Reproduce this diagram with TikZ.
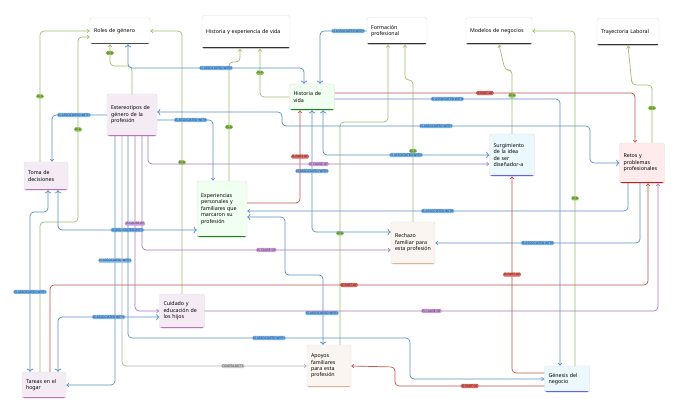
\documentclass[tikz,border=0pt]{standalone}
\usepackage{fontspec}
\setmainfont{Noto Sans}
\usetikzlibrary{arrows.meta}
\definecolor{isaC}{HTML}{9DBE6E}
\definecolor{isaF}{HTML}{8BC34A}
\definecolor{asC}{HTML}{5B8FC9}
\definecolor{asF}{HTML}{6FB3F2}
\definecolor{poC}{HTML}{C2544A}
\definecolor{poF}{HTML}{E0625A}
\definecolor{caC}{HTML}{A77BBE}
\definecolor{caF}{HTML}{CC99DD}
\newcommand\boxfont{\fontsize{5.3}{6.4}\selectfont\hyphenpenalty=10000\relax\exhyphenpenalty=10000\relax}
\tikzset{
  box/.style n args={4}{draw=black!12, fill=#1, rounded corners=2pt,
    minimum width=#3, minimum height=#4, text width=#3-8pt, align=left,
    inner sep=2pt, font=\boxfont,
    path picture={\draw[line width=2.2pt,#2]
      (path picture bounding box.south west) -- (path picture bounding box.south east);}},
  conn/.style={line width=0.7pt, rounded corners=4pt, -{Straight Barb[length=2.2pt,width=3.5pt]}},
  isa/.style={conn, isaC},
  assoc/.style={conn, asC},
  part/.style={conn, poC},
  cause/.style={conn, caC},
  contra/.style={conn, black!30},
  lbl/.style={fill=#1, text=black!80, rounded corners=1.5pt, inner sep=0.9pt,
    font=\fontsize{3.2}{3.6}\selectfont},
}
\begin{document}
\begin{tikzpicture}[x=1pt,y=-1pt]
\useasboundingbox[fill=white] (0,0) rectangle (700,417);
% nodes
\node[box={white}{black!80}{60pt}{26pt}] (roles) at (120,31) {Roles de género};
\node[box={white}{black!80}{88pt}{33pt}] (histexp) at (246,32) {Historia y experiencia de vida};
\node[box={white}{black!80}{60pt}{27pt}] (formacion) at (397,31) {Formación profesional};
\node[box={white}{black!80}{66pt}{27pt}] (modelos) at (499,31) {Modelos de negocios};
\node[box={white}{black!80}{62pt}{27pt}] (trayect) at (628,32) {Trayectoria Laboral};
\node[box={green!6}{green!45!black}{45pt}{26pt}] (histvida) at (312,97) {Historia de vida};
\node[box={violet!8}{violet!60}{50pt}{42pt}] (estereo) at (132,115) {Estereotipos de género de la profesión};
\node[box={violet!8}{violet!60}{44pt}{28pt}] (toma) at (46,176) {Toma de decisiones};
\node[box={green!6}{green!45!black}{50pt}{56pt}] (experien) at (222,209) {Experiencias personales y familiares que marcaron su profesión};
\node[box={cyan!8}{blue!70}{45pt}{42pt}] (surg) at (512,155) {Surgimiento de la idea de ser diseñador-a};
\node[box={red!8}{red!75!black}{45pt}{40pt}] (retos) at (642,163) {Retos y problemas profesionales};
\node[box={brown!8}{brown!60}{44pt}{42pt}] (rechazo) at (413,243) {Rechazo familiar para esta profesión};
\node[box={violet!8}{violet!60}{45pt}{34pt}] (cuidado) at (182,311) {Cuidado y educación de los hijos};
\node[box={brown!8}{brown!60}{44pt}{42pt}] (apoyos) at (329,366) {Apoyos familiares para esta profesión};
\node[box={violet!8}{violet!60}{44pt}{26pt}] (tareas) at (44,385) {Tareas en el hogar};
\node[box={cyan!8}{blue!70}{45pt}{26pt}] (genesis) at (567,379) {Génesis del negocio};
% is a
\draw[isa] ([xshift=-6pt]toma.north) |- node[lbl=isaF,pos=.25]{IS A} (roles.west);
\draw[isa] ([xshift=-4pt]tareas.north) |- (78,222) |- node[lbl=isaF,pos=.25]{IS A} ([yshift=-6pt]roles.west);
\draw[isa] (estereo.north) |- (110,66) -- node[lbl=isaF,pos=.6]{IS A} ([xshift=-10pt]roles.south);
\draw[isa] (cuidado.north) |- node[lbl=isaF,pos=.25]{IS A} (roles.east);
\draw[isa] ([xshift=7pt]experien.north) |- (240,62) -- ([xshift=-6pt]histexp.south);
\node[lbl=isaF] (lisa) at (229,127) {IS A};
\draw[isa] (histvida.west) -| node[lbl=isaF,pos=.75]{IS A} ([xshift=14pt]histexp.south);
\draw[isa] ([xshift=11pt]apoyos.north) |- node[lbl=isaF,pos=.25]{IS A} (388,122) -- ([xshift=-9pt]formacion.south);
\draw[isa] (rechazo.north) |- node[lbl=isaF,pos=.25]{IS A} (405,80) -- ([xshift=8pt]formacion.south);
\draw[isa] (surg.north) |- node[lbl=isaF,pos=.3]{IS A} (505,70) -- (modelos.south);
\draw[isa] ([xshift=8pt]genesis.north) |- node[lbl=isaF,pos=.25]{IS A} (modelos.east);
\draw[isa] ([xshift=10pt]retos.north) |- node[lbl=isaF,pos=.3]{IS A} (632,85) -- (trayect.south);
% associated with
\draw[assoc,<->] ([xshift=8pt]roles.south) |- node[lbl=asF,pos=.75]{IS ASSOCIATED WITH} (304,68) -- ([xshift=-8pt]histvida.north);
\draw[assoc,<-] ([xshift=8pt]histvida.north) |- node[lbl=asF,pos=.8]{IS ASSOCIATED WITH} (formacion.west);
\draw[assoc] (estereo.west) -| node[lbl=asF,pos=.3]{IS ASSOCIATED WITH} ([xshift=6pt]toma.north);
\draw[assoc] ([yshift=-5pt]estereo.east) -| node[lbl=asF,pos=.3]{IS ASSOCIATED WITH} ([xshift=-9pt]experien.north);
\draw[assoc,<->] (retos.west) -| (590,126) -- node[lbl=asF]{IS ASSOCIATED WITH} (282,126) |- ([yshift=3pt]estereo.east);
\draw[assoc] ([yshift=-2pt]histvida.east) -| node[lbl=asF,pos=.25]{IS ASSOCIATED WITH} ([xshift=-7pt]genesis.north);
\draw[assoc,<->] ([xshift=11pt]histvida.south) |- node[lbl=asF,pos=.75]{IS ASSOCIATED WITH} (surg.west);
\draw[assoc,<->] (histvida.south) |- node[lbl=asF,pos=.25]{IS ASSOCIATED WITH} ([yshift=11pt]rechazo.west);
\draw[assoc] ([xshift=-14pt]retos.south) |- node[lbl=asF,pos=.75]{IS ASSOCIATED WITH} ([yshift=-2pt]experien.east);
\draw[assoc] ([xshift=-2pt]retos.south) |- node[lbl=asF,pos=.75]{IS ASSOCIATED WITH} (rechazo.east);
\draw[assoc,<->] ([xshift=-6pt]apoyos.north) |- (285,275) |- ([yshift=-8pt]experien.east);
\draw[assoc,<->] ([xshift=12pt]toma.south) |- node[lbl=asF,pos=.75]{IS ASSOCIATED WITH} ([yshift=-21pt]experien.west);
\draw[assoc,<->] ([xshift=2pt]toma.south) |- (30,212) -- node[lbl=asF]{IS ASSOCIATED WITH} ([xshift=-14pt]tareas.north);
\draw[assoc] ([xshift=-17pt]estereo.south) |- node[lbl=asF,pos=.25]{IS ASSOCIATED WITH} (tareas.east);
\draw[assoc,<->] ([xshift=14pt]tareas.north) |- node[lbl=asF,pos=.75]{IS ASSOCIATED WITH} ([yshift=-6pt]cuidado.west);
\draw[assoc] ([xshift=-4pt]estereo.south) |- node[lbl=asF,pos=.75]{IS ASSOCIATED WITH} (410,338) |- (genesis.west);
\node[lbl=asF] (lassoc) at (322,313) {IS ASSOCIATED WITH};
% contradicts
\draw[contra] ([xshift=-10pt]estereo.south) |- node[lbl=black!20,pos=.8]{CONTRADICTS} (apoyos.west);
% part of
\draw[part] ([yshift=6pt]experien.east) -| node[lbl=poF,pos=.75]{IS PART OF} ([xshift=-12pt]histvida.south);
\draw[part] ([yshift=4pt]histvida.east) -| node[lbl=poF,pos=.25]{IS PART OF} ([xshift=-7pt]retos.north);
\draw[part] ([xshift=6pt]tareas.north) |- node[lbl=poF,pos=.75]{IS PART OF} (648,285) -- ([xshift=6pt]retos.south);
\draw[part] ([yshift=6pt]genesis.west) -| node[lbl=poF,pos=.75]{IS PART OF} (surg.south);
\draw[part] ([yshift=-7pt]genesis.west) -| node[lbl=poF,pos=.25]{IS PART OF} (395,367) -- (apoyos.east);
% cause of
\draw[cause] ([xshift=16pt]estereo.south) |- node[lbl=caF,pos=.75]{IS CAUSE OF} ([yshift=-9pt]surg.west);
\draw[cause] ([xshift=3pt]estereo.south) |- node[lbl=caF,pos=.25]{IS CAUSE OF} (cuidado.west);
\draw[cause] (cuidado.east) -| node[lbl=caF,pos=.25]{IS CAUSE OF} ([xshift=16pt]retos.south);
\draw[cause] ([xshift=10pt]estereo.south) |- node[lbl=caF,pos=.75]{IS CAUSE OF} ([yshift=-7pt]rechazo.west);
\end{tikzpicture}
\end{document}
